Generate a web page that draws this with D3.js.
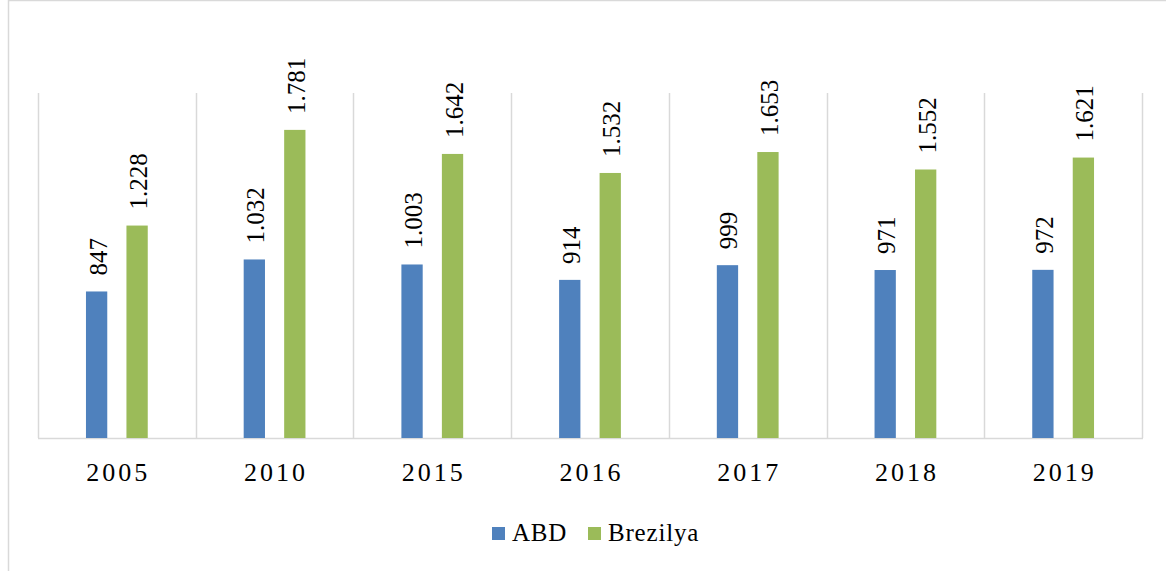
<!DOCTYPE html>
<html>
<head>
<meta charset="utf-8">
<script src="https://cdn.jsdelivr.net/npm/d3@7"></script>
<style>
  html, body { margin: 0; padding: 0; background: #fff; }
  svg { display: block; }
</style>
</head>
<body>
<svg id="chart" width="1166" height="571"></svg>
<script>
const categories = ["2005", "2010", "2015", "2016", "2017", "2018", "2019"];
const seriesNames = ["ABD", "Brezilya"];
const abdValues = [847, 1032, 1003, 914, 999, 971, 972];
const brezilyaValues = [1228, 1781, 1642, 1532, 1653, 1552, 1621];
const seriesColors = ["#4f81bd", "#9bbb59"];

const svg = d3.select("#chart");
const FONT = "'Liberation Serif', 'Times New Roman', serif";
const gridColor = "#d9d9d9";

// outer chart border
svg.append("path")
  .attr("d", "M8.5,571 L8.5,0.5 L1166,0.5")
  .attr("fill", "none")
  .attr("stroke", gridColor)
  .attr("stroke-width", 1.5);

const plotLeft = 38, plotRight = 1142, plotTop = 92, plotBottom = 438;

const x0 = d3.scaleBand().domain(categories).range([plotLeft, plotRight]).paddingInner(0).paddingOuter(0);
const x1 = d3.scaleBand().domain(seriesNames).range([0, x0.bandwidth()])
  .paddingInner(0.474).paddingOuter(1.185);
const y = d3.scaleLinear().domain([0, 2000]).range([plotBottom, plotTop]);

// vertical gridlines at category boundaries
const bounds = categories.map(c => x0(c)).concat([plotRight]);
svg.append("g").selectAll("line").data(bounds).join("line")
  .attr("x1", d => Math.round(d) + 0.5).attr("x2", d => Math.round(d) + 0.5)
  .attr("y1", plotTop + 1).attr("y2", plotBottom)
  .attr("stroke", gridColor).attr("stroke-width", 1.5);

// baseline
svg.append("line")
  .attr("x1", plotLeft).attr("x2", plotRight + 1)
  .attr("y1", plotBottom + 0.5).attr("y2", plotBottom + 0.5)
  .attr("stroke", gridColor).attr("stroke-width", 1.5);

const data = categories.map((c, i) => ({
  cat: c,
  vals: [
    { s: "ABD", v: abdValues[i], color: seriesColors[0] },
    { s: "Brezilya", v: brezilyaValues[i], color: seriesColors[1] }
  ]
}));

const fmt = v => d3.format(",")(v).replace(/,/g, ".");

const groups = svg.append("g").selectAll("g").data(data).join("g")
  .attr("transform", d => `translate(${x0(d.cat)},0)`);

groups.selectAll("rect").data(d => d.vals).join("rect")
  .attr("x", d => x1(d.s))
  .attr("width", x1.bandwidth())
  .attr("y", d => y(d.v))
  .attr("height", d => y(0) - y(d.v))
  .attr("fill", d => d.color);

const labelSize = 25;
groups.selectAll("text.lbl").data(d => d.vals).join("text")
  .attr("class", "lbl")
  .attr("transform", d => {
    const cx = x1(d.s) + x1.bandwidth() / 2 + labelSize * 0.34 + 1.5;
    const yy = y(d.v) - 16;
    return `translate(${cx},${yy}) rotate(-90)`;
  })
  .attr("font-family", FONT)
  .attr("font-size", labelSize)
  .attr("fill", "#000")
  .attr("text-anchor", "start")
  .text(d => fmt(d.v));

// x axis labels
const xAxis = d3.axisBottom(x0).tickSize(0).tickPadding(0);
const gx = svg.append("g").attr("transform", `translate(1.5,${plotBottom})`).call(xAxis);
gx.select(".domain").remove();
gx.selectAll("text")
  .attr("dy", null)
  .attr("y", 43)
  .attr("font-family", FONT)
  .attr("font-size", 26)
  .attr("letter-spacing", "3px")
  .attr("fill", "#000");

// legend
const legendX = [492, 588];
const leg = svg.append("g").selectAll("g").data(seriesNames).join("g")
  .attr("transform", (d, i) => `translate(${legendX[i]},527)`);
leg.append("rect").attr("width", 13).attr("height", 13).attr("fill", (d, i) => seriesColors[i]);
leg.append("text")
  .attr("x", 20).attr("y", 14)
  .attr("font-family", FONT)
  .attr("font-size", 25)
  .attr("letter-spacing", "0.8px")
  .attr("fill", "#000")
  .text(d => d);
</script>
</body>
</html>
